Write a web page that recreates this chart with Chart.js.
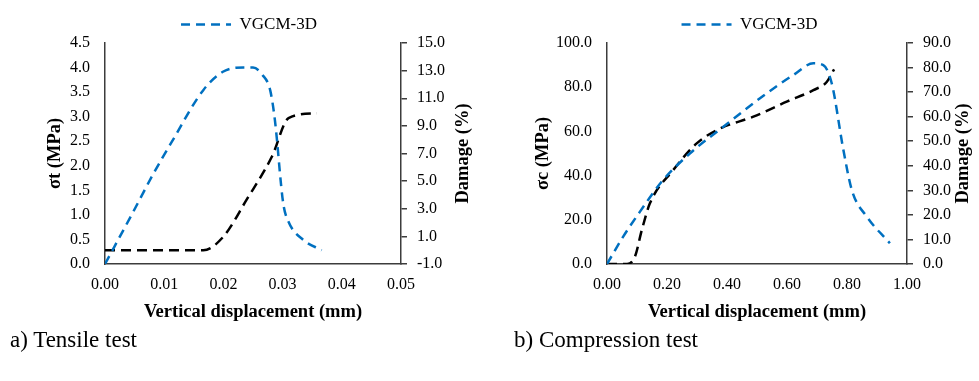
<!DOCTYPE html>
<html lang="en">
<head>
    <meta charset="UTF-8" />
    <title>VGCM-3D tensile and compression test</title>
    <script src="https://cdn.jsdelivr.net/npm/chart.js"></script>
    <style>
        body { margin: 0; background: #fff; width: 979px; height: 381px; position: relative; overflow: hidden; }
        canvas { position: absolute; top: 0; }
        #tensile { left: 0; }
        #compression { left: 520px; }
        .caption { position: absolute; top: 327px; font: 23px "Liberation Serif", "Times New Roman", serif; color: #000; line-height: 26px; }
    </style>
</head>
<body>
    <canvas id="tensile" width="498" height="330"></canvas>
    <canvas id="compression" width="459" height="330"></canvas>
    <div class="caption" style="left: 10px;">a) Tensile test</div>
    <div class="caption" style="left: 514px;">b) Compression test</div>

    <script>
        // a) tensile test
        const tensileDisp   = [0, 0.0048, 0.0080, 0.0113, 0.0166, 0.0200, 0.0234, 0.0250, 0.0266, 0.0279, 0.0287, 0.0301, 0.0310, 0.0335, 0.0366];
        const tensileStress = [0, 1.07, 1.80, 2.49, 3.54, 3.92, 4.00, 4.00, 3.85, 3.54, 2.93, 1.24, 0.86, 0.49, 0.28];
        const tensileDmgDisp = [0, 0.0166, 0.0200, 0.0239, 0.0282, 0.0310, 0.0358];
        const tensileDmg     = [0, 0, 0.98, 3.64, 6.78, 9.56, 9.92];

        // b) compression test
        const compDisp   = [0, 0.054, 0.110, 0.182, 0.277, 0.388, 0.510, 0.621, 0.688, 0.721, 0.749, 0.788, 0.816, 0.866, 0.943];
        const compStress = [0, 12.4, 23.7, 37.2, 50.1, 62.1, 75.0, 85.5, 90.8, 90.0, 81.8, 51.6, 33.5, 21.4, 9.4];
        const compDmgDisp = [0, 0.067, 0.093, 0.116, 0.143, 0.221, 0.299, 0.377, 0.488, 0.599, 0.688, 0.733, 0.757];
        const compDmg     = [0, 0, 3.0, 13.8, 24.7, 38.3, 49.1, 55.2, 60.0, 66.1, 70.8, 74.2, 79.3];

        const seriesName = "VGCM-3D";
        const xTitle = "Vertical displacement (mm)";

        const serif = "'Liberation Serif', 'Times New Roman', serif";
        const axisColor = "#3c3c3c";
        const blue = "#0070C0";
        const blueDash = [9, 6];

        const pairs = (xs, ys) => xs.map((x, i) => ({ x: x, y: ys[i] }));

        // Excel draws the secondary axis title bottom-to-top, Chart.js does not
        const rightTitle = {
            id: "rightTitle",
            afterDraw(chart, args, opts) {
                const ctx = chart.ctx;
                const area = chart.chartArea;
                ctx.save();
                ctx.translate(opts.x, (area.top + area.bottom) / 2);
                ctx.rotate(-Math.PI / 2);
                ctx.font = "bold 18.5px " + serif;
                ctx.fillStyle = "#000";
                ctx.textAlign = "center";
                ctx.textBaseline = "middle";
                ctx.fillText(opts.text, 0, 0);
                ctx.restore();
            }
        };

        function makeChart(id, cfg) {
            const ctx = document.getElementById(id).getContext("2d");
            return new Chart(ctx, {
                type: "line",
                data: {
                    datasets: [{
                        label: seriesName,
                        data: pairs(cfg.x, cfg.y),
                        borderColor: blue,
                        backgroundColor: blue,
                        borderWidth: 2.5,
                        borderDash: blueDash,
                        pointRadius: 0,
                        cubicInterpolationMode: "monotone",
                        yAxisID: "y"
                    }, {
                        label: "Damage",
                        data: pairs(cfg.dx, cfg.dy),
                        borderColor: "#000",
                        backgroundColor: "#000",
                        borderWidth: 2.5,
                        borderDash: [10, 6],
                        pointRadius: 0,
                        cubicInterpolationMode: "monotone",
                        yAxisID: "y2"
                    }]
                },
                options: {
                    responsive: false,
                    animation: false,
                    devicePixelRatio: 1,
                    layout: { padding: 0 },
                    plugins: {
                        tooltip: { enabled: false },
                        legend: {
                            position: "top",
                            labels: {
                                // only the blue series is in the legend, and keep its dash
                                generateLabels: chart => Chart.defaults.plugins.legend.labels.generateLabels(chart)
                                    .filter(item => item.datasetIndex === 0)
                                    .map(item => Object.assign(item, { lineDash: blueDash, lineWidth: 2.5, strokeStyle: blue })),
                                usePointStyle: true,
                                pointStyle: "line",
                                pointStyleWidth: 50,
                                padding: 6,
                                color: "#000",
                                font: { family: serif, size: 17 }
                            }
                        },
                        rightTitle: { text: "Damage (%)", x: cfg.rightTitleX }
                    },
                    scales: {
                        x: {
                            type: "linear",
                            min: cfg.xMin, max: cfg.xMax,
                            afterFit: s => { s.height = 66; },
                            grid: { display: false, drawTicks: false },
                            border: { display: true, color: axisColor, width: 1.5 },
                            ticks: {
                                stepSize: cfg.xStep,
                                padding: 11,
                                maxRotation: 0,
                                color: "#000",
                                font: { family: serif, size: 16 },
                                callback: v => v.toFixed(2)
                            },
                            title: {
                                display: true,
                                text: xTitle,
                                color: "#000",
                                padding: { top: 0, bottom: 7 },
                                font: { family: serif, size: 18.5, weight: "bold" }
                            }
                        },
                        y: {
                            position: "left",
                            min: cfg.yMin, max: cfg.yMax,
                            afterFit: s => { s.width = cfg.leftWidth; s.paddingTop = 43; },
                            grid: { display: false, drawTicks: false },
                            border: { display: true, color: axisColor, width: 1.5 },
                            ticks: {
                                stepSize: cfg.yStep,
                                padding: 15,
                                color: "#000",
                                font: { family: serif, size: 16 },
                                callback: v => v.toFixed(1)
                            },
                            title: {
                                display: true,
                                text: cfg.yTitle,
                                color: "#000",
                                padding: { top: cfg.leftTitlePad, bottom: 0 },
                                font: { family: serif, size: 18.5, weight: "bold" }
                            }
                        },
                        y2: {
                            position: "right",
                            min: cfg.y2Min, max: cfg.y2Max,
                            afterFit: s => { s.width = cfg.rightWidth; s.paddingTop = 43; },
                            grid: { display: true, drawOnChartArea: false, drawTicks: true, tickLength: 6, color: axisColor, lineWidth: 1.5 },
                            border: { display: true, color: axisColor, width: 1.5 },
                            ticks: {
                                stepSize: cfg.y2Step,
                                padding: 10,
                                color: "#000",
                                font: { family: serif, size: 16 },
                                callback: v => v.toFixed(1)
                            }
                        }
                    }
                },
                plugins: [rightTitle]
            });
        }

        makeChart("tensile", {
            x: tensileDisp, y: tensileStress, dx: tensileDmgDisp, dy: tensileDmg,
            xMin: 0, xMax: 0.05, xStep: 0.01,
            yMin: 0, yMax: 4.5, yStep: 0.5, yTitle: "σt (MPa)",
            y2Min: -1, y2Max: 15, y2Step: 2,
            leftWidth: 105, rightWidth: 97, leftTitlePad: 44, rightTitleX: 463
        });

        makeChart("compression", {
            x: compDisp, y: compStress, dx: compDmgDisp, dy: compDmg,
            xMin: 0, xMax: 1, xStep: 0.2,
            yMin: 0, yMax: 100, yStep: 20, yTitle: "σc (MPa)",
            y2Min: 0, y2Max: 90, y2Step: 10,
            leftWidth: 87, rightWidth: 72, leftTitlePad: 12, rightTitleX: 443
        });
    </script>
</body>
</html>
